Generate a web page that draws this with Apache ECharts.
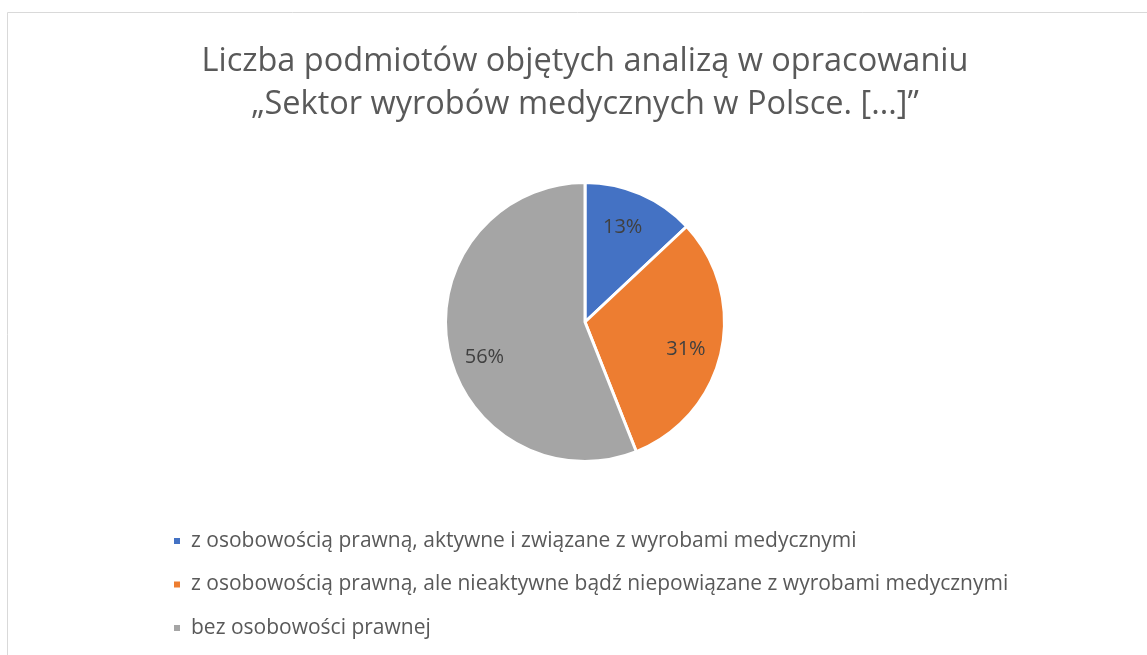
<!DOCTYPE html>
<html>
<head>
<meta charset="utf-8">
<script src="https://cdn.jsdelivr.net/npm/echarts@6/dist/echarts.min.js"></script>
<style>
html,body{margin:0;padding:0;background:#fff;}
#chart{width:1147px;height:655px;}
</style>
</head>
<body>
<div id="chart"></div>
<script>
const titleLines = ['Liczba podmiotów objętych analizą w opracowaniu', '„Sektor wyrobów medycznych w Polsce. [...]”'];
const categories = [
  'z osobowością prawną, aktywne i związane z wyrobami medycznymi',
  'z osobowością prawną, ale nieaktywne bądź niepowiązane z wyrobami medycznymi',
  'bez osobowości prawnej'
];
const values = [13, 31, 56];
const colors = ['#4472C4', '#ED7D31', '#A5A5A5'];

const FONT = '"Open Sans", "Noto Sans", sans-serif';
const data = categories.map((c, i) => ({ name: c, value: values[i], itemStyle: { color: colors[i] } }));

const chart = echarts.init(document.getElementById('chart'));
chart.setOption({
  animation: false,
  graphic: [{
    type: 'rect',
    shape: { x: 7.5, y: 12.5, width: 1300, height: 800 },
    style: { fill: 'none', stroke: '#d9d9d9', lineWidth: 1 },
    silent: true
  }, {
    type: 'text',
    x: 585, y: 39.5,
    style: {
      text: titleLines.join('\n'),
      fontFamily: FONT, fontSize: 32.5, fill: '#595959', lineHeight: 43.5,
      align: 'center', verticalAlign: 'top'
    },
    silent: true
  }],
  legend: {
    orient: 'vertical', left: 167, top: 524,
    icon: 'rect', itemWidth: 8, itemHeight: 8, itemGap: 19.5,
    data: categories,
    textStyle: { fontFamily: FONT, fontSize: 21, color: '#595959', lineHeight: 24, padding: [0, 0, 0, 5] }
  },
  series: [{
    type: 'pie',
    center: [585, 322], radius: [0, 139.5],
    startAngle: 90, clockwise: true,
    data: data,
    itemStyle: { borderColor: '#fff', borderWidth: 3 },
    label: { show: false },
    labelLine: { show: false },
    emphasis: { disabled: true }
  }, {
    type: 'pie',
    center: [585, 322], radius: [70, 139],
    startAngle: 90, clockwise: true,
    data: data.map(d => ({ name: d.name, value: d.value })),
    itemStyle: { color: 'rgba(0,0,0,0)', borderWidth: 0 },
    silent: true,
    label: { show: true, position: 'inside', formatter: '{d}%', fontFamily: FONT, fontSize: 20, color: '#404040' },
    labelLine: { show: false },
    labelLayout: function (p) {
      if (p.dataIndex === 0) return { dx: -5, dy: 4 };
      if (p.dataIndex === 1) return { dx: -4, dy: 4 };
      return { dx: 5, dy: 15 };
    },
    emphasis: { disabled: true }
  }]
});
</script>
</body>
</html>
